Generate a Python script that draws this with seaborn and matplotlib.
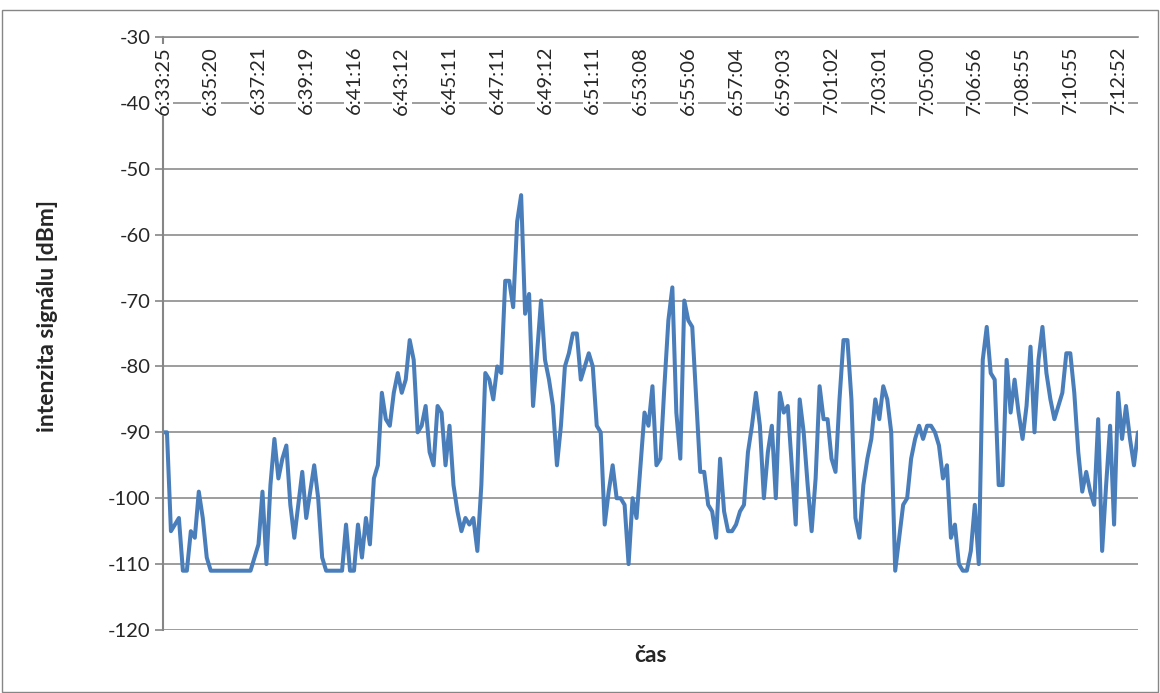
import matplotlib
matplotlib.use("Agg")
import matplotlib.pyplot as plt
import seaborn as sns
import pandas as pd
from matplotlib.patches import Rectangle

# time labels shown on the category axis (every 12th sample)
tick_labels = ['6:33:25', '6:35:20', '6:37:21', '6:39:19', '6:41:16', '6:43:12',
               '6:45:11', '6:47:11', '6:49:12', '6:51:11', '6:53:08', '6:55:06',
               '6:57:04', '6:59:03', '7:01:02', '7:03:01', '7:05:00', '7:06:56',
               '7:08:55', '7:10:55', '7:12:52']
label_step = 12

# signal strength in dBm, one value per sample
signal = [
    -90, -90, -105, -104, -103, -111, -111, -105, -106, -99,
    -103, -109, -111, -111, -111, -111, -111, -111, -111, -111,
    -111, -111, -111, -109, -107, -99, -110, -98, -91, -97,
    -94, -92, -101, -106, -101, -96, -103, -99, -95, -100,
    -109, -111, -111, -111, -111, -111, -104, -111, -111, -104,
    -109, -103, -107, -97, -95, -84, -88, -89, -84, -81,
    -84, -82, -76, -79, -90, -89, -86, -93, -95, -86,
    -87, -95, -89, -98, -102, -105, -103, -104, -103, -108,
    -98, -81, -82, -85, -80, -81, -67, -67, -71, -58,
    -54, -72, -69, -86, -78, -70, -79, -82, -86, -95,
    -89, -80, -78, -75, -75, -82, -80, -78, -80, -89,
    -90, -104, -99, -95, -100, -100, -101, -110, -100, -103,
    -95, -87, -89, -83, -95, -94, -83, -73, -68, -87,
    -94, -70, -73, -74, -85, -96, -96, -101, -102, -106,
    -94, -102, -105, -105, -104, -102, -101, -93, -89, -84,
    -89, -100, -93, -89, -100, -84, -87, -86, -95, -104,
    -85, -90, -98, -105, -97, -83, -88, -88, -94, -96,
    -85, -76, -76, -85, -103, -106, -98, -94, -91, -85,
    -88, -83, -85, -90, -111, -106, -101, -100, -94, -91,
    -89, -91, -89, -89, -90, -92, -97, -95, -106, -104,
    -110, -111, -111, -108, -101, -110, -79, -74, -81, -82,
    -98, -98, -79, -87, -82, -87, -91, -86, -77, -90,
    -79, -74, -81, -85, -88, -86, -84, -78, -78, -84,
    -93, -99, -96, -99, -101, -88, -108, -98, -89, -104,
    -84, -91, -86, -91, -95, -90,
]

df = pd.DataFrame({'sample': range(len(signal)), 'dBm': signal})

sns.set_style('white')
plt.rcParams['font.family'] = ['Lato', 'DejaVu Sans']
plt.rcParams['axes.unicode_minus'] = False

fig = plt.figure(figsize=(11.6, 6.93), dpi=100)
ax = fig.add_axes([0.1405, 0.0909, 0.8405, 0.8557])

sns.lineplot(x='sample', y='dBm', data=df, ax=ax, color='#4a7ebb', linewidth=2.9)

ax.set_ylim(-120, -30)
ax.set_xlim(0, len(signal) - 1)
ax.set_yticks(range(-120, -29, 10))
ax.grid(axis='y', color='#8c8c8c', linewidth=1.2)
ax.set_axisbelow(True)

for side in ['right', 'bottom']:
    ax.spines[side].set_visible(False)
ax.spines['left'].set_color('#868686')
ax.spines['left'].set_linewidth(1.5)
ax.spines['top'].set_color('#8c8c8c')
ax.spines['top'].set_linewidth(1.2)

ax.tick_params(axis='y', length=6, width=1.2, color='#868686', labelsize=14.5, pad=3,
               direction='out', left=True)
ax.set_xticks([])

# category labels sit just under the top axis, rotated, on white boxes
for k, lab in enumerate(tick_labels):
    ax.text(k * label_step, 0.985, lab, transform=ax.get_xaxis_transform(),
            rotation=90, ha='center', va='top', fontsize=14.5,
            bbox=dict(facecolor='white', edgecolor='none', pad=1.0))

ax.set_xlabel('čas', fontsize=16.5, fontweight='bold')
ax.xaxis.set_label_coords(0.5, -0.025)
ax.set_ylabel('intenzita signálu [dBm]', fontsize=16.5, fontweight='bold')
ax.yaxis.set_label_coords(-0.108, 0.53)

fig.patches.append(Rectangle((0.002, 0.002), 0.996, 0.984, transform=fig.transFigure,
                             fill=False, edgecolor='#868686', linewidth=1.0))

fig.savefig('out.png', dpi=100)
